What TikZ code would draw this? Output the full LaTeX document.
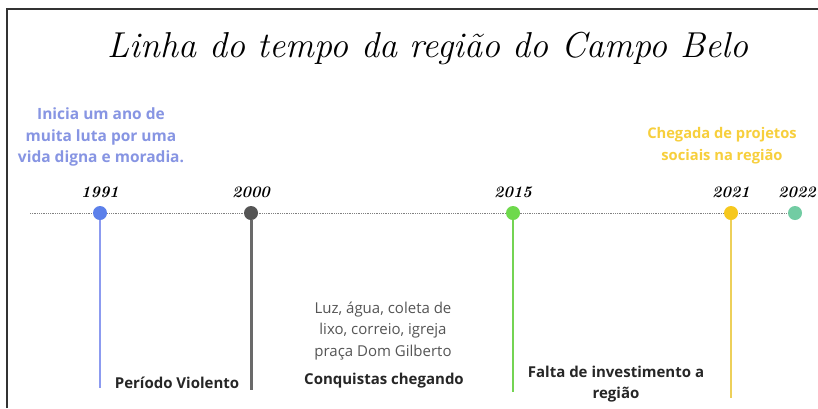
\documentclass[tikz,border=0pt]{standalone}
\usepackage{fontspec}
\setsansfont{Open Sans}
\definecolor{periw}{HTML}{8795E3}
\definecolor{dblue}{HTML}{5C80EA}
\definecolor{lblue}{HTML}{8C9BF0}
\definecolor{dgray}{HTML}{555555}
\definecolor{lgray}{HTML}{6A6A6A}
\definecolor{gdot}{HTML}{6ED94C}
\definecolor{gline}{HTML}{74D453}
\definecolor{ydot}{HTML}{F6C81E}
\definecolor{yline}{HTML}{EDD05A}
\definecolor{ytext}{HTML}{F7CF3C}
\definecolor{teal}{HTML}{72CCA3}
\definecolor{txtgray}{HTML}{555555}
\definecolor{frame}{HTML}{333333}
\begin{document}
\begin{tikzpicture}[x=1pt,y=-1pt,
  dot/.style={circle,inner sep=0pt,minimum size=14pt},
  year/.style={font=\fontsize{16}{18}\selectfont\bfseries\itshape,text=black,inner sep=0pt},
  info/.style={font=\sffamily\fontsize{15}{21.5}\selectfont,align=center,inner sep=0pt},
  infob/.style={info,font=\sffamily\bfseries\fontsize{15}{21.5}\selectfont},
  stem/.style={line width=2pt}]
\useasboundingbox (0,0) rectangle (818,408);
\fill[white] (0,0) rectangle (818,408);
\draw[line width=2pt,frame] (7,408) -- (7,9) -- (818,9);
% title
\node[font=\fontsize{36}{40}\selectfont\itshape,inner sep=0pt] (title) at (428,48) {Linha do tempo da região do Campo Belo};
% timeline
\coordinate (start) at (30,213);
\node[dot,fill=teal] (d2022) at (795,213) {};
\draw[densely dotted,gray,line width=0.8pt] (start) -- (d2022);
\node[dot,fill=dblue] (d1991) at (100,213) {};
\node[dot,fill=dgray] (d2000) at (251,213) {};
\node[dot,fill=gdot] (d2015) at (513,213) {};
\node[dot,fill=ydot] (d2021) at (731,213) {};
% stems
\coordinate (e1991) at (100,388);
\coordinate (e2000) at (251,390);
\coordinate (e2015) at (513,392);
\coordinate (e2021) at (731,398);
\draw[stem,lblue] (d1991) -- (e1991);
\draw[stem,lgray,line width=3pt] (d2000) -- (e2000);
\draw[stem,gline,line width=2.5pt] (d2015) -- (e2015);
\draw[stem,yline] (d2021) -- (e2021);
% years
\node[year] (y1991) at (100,192) {1991};
\node[year] (y2000) at (251,192) {2000};
\node[year] (y2015) at (513,192) {2015};
\node[year] (y2021) at (731,192) {2021};
\node[year] (y2022) at (797,192) {2022};
% texts
\node[infob,text=periw,font=\sffamily\bfseries\fontsize{15.5}{21.5}\selectfont] (t1) at (101,137) {Inicia um ano de\\muita luta por uma\\vida digna e moradia.};
\node[infob,text=ytext,font=\sffamily\bfseries\fontsize{14.7}{22}\selectfont] (t2) at (722,146) {Chegada de projetos\\sociais na região};
\node[info,text=txtgray] (t3) at (383,331) {Luz, água, coleta de\\lixo, correio, igreja\\praça Dom Gilberto};
\node[infob,text=black!85] (t4) at (384,381) {Conquistas chegando};
\node[infob,text=black!85] (t5) at (177,383) {Período Violento};
\node[infob,text=black!85] (t6) at (616,384) {Falta de investimento a\\região};
\end{tikzpicture}
\end{document}
